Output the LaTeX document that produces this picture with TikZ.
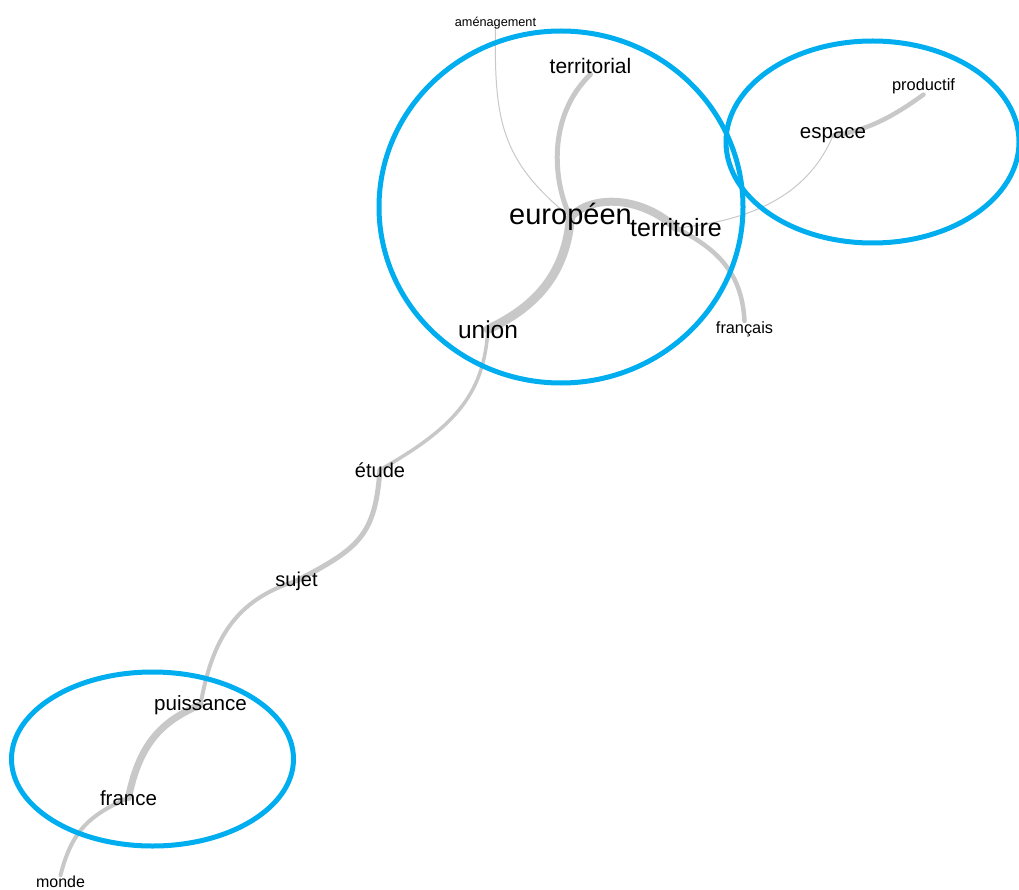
\documentclass[tikz,border=0pt]{standalone}
\usepackage{fontspec}
\setmainfont{Liberation Sans}
\usetikzlibrary{backgrounds}
\definecolor{hlblue}{HTML}{00AEEF}
\definecolor{edgegray}{HTML}{C8C8C8}
\tikzset{
  word/.style={inner sep=0pt, anchor=base, text=black},
  fs/.style={font=\fontsize{#1}{#1}\selectfont},
  link/.style={draw=edgegray, line width=#1, line cap=round},
  hl/.style={draw=hlblue, line width=5pt},
}
\begin{document}
\begin{tikzpicture}[x=1pt, y=-1pt]
\useasboundingbox (0,0) rectangle (1019,890);
% words
\node[word, fs=12.7] (amenagement) at (495.5,27) {aménagement};
\node[word, fs=21] (territorial) at (590.5,74) {territorial};
\node[word, fs=29] (europeen) at (570.5,225) {européen};
\node[word, fs=25] (territoire) at (676,237) {territoire};
\node[word, fs=24.5] (union) at (488,338) {union};
\node[word, fs=16.3] (francais) at (744.5,333) {français};
\node[word, fs=20.5] (espace) at (833,139) {espace};
\node[word, fs=16.4] (productif) at (923.5,91) {productif};
\node[word, fs=20] (etude) at (380,477) {étude};
\node[word, fs=20] (sujet) at (296.5,586) {sujet};
\node[word, fs=20.6] (puissance) at (200.5,710) {puissance};
\node[word, fs=20.5] (france) at (128.5,805) {france};
\node[word, fs=16] (monde) at (60.5,887) {monde};
\begin{pgfonlayer}{background}
% connectors
\draw[link=1pt] (amenagement.center) .. controls (494,120) and (500,160) .. (europeen.center);
\draw[link=1pt] (territoire.center) .. controls (760,220) and (810,190) .. (espace.center);
\draw[link=5pt] (europeen.center) .. controls (552,180) and (548,115) .. (territorial.south);
\draw[link=9pt] (union.center) .. controls (540,305) and (566,270) .. (europeen.center);
\draw[link=8pt] (europeen.center) .. controls (590,195) and (640,195) .. (territoire.center);
\draw[link=4.5pt] (territoire.center) .. controls (720,250) and (742,275) .. (francais.north);
\draw[link=4.5pt] (espace.center) .. controls (870,130) and (895,115) .. (productif.south);
\draw[link=3.5pt] (union.center) .. controls (484,390) and (460,425) .. (etude.center);
\draw[link=5pt] (etude.center) .. controls (375,535) and (360,548) .. (sujet.center);
\draw[link=4pt] (sujet.center) .. controls (235,600) and (212,640) .. (puissance.center);
\draw[link=7pt] (puissance.center) .. controls (165,720) and (140,740) .. (france.center);
\draw[link=4pt] (france.center) .. controls (90,815) and (72,830) .. (monde.north);
% highlight ellipses
\draw[hl] (561,207) ellipse [x radius=182, y radius=176];
\draw[hl] (872.5,142) ellipse [x radius=146.5, y radius=101];
\draw[hl] (152.5,759) ellipse [x radius=141, y radius=87];
\end{pgfonlayer}
\end{tikzpicture}
\end{document}
